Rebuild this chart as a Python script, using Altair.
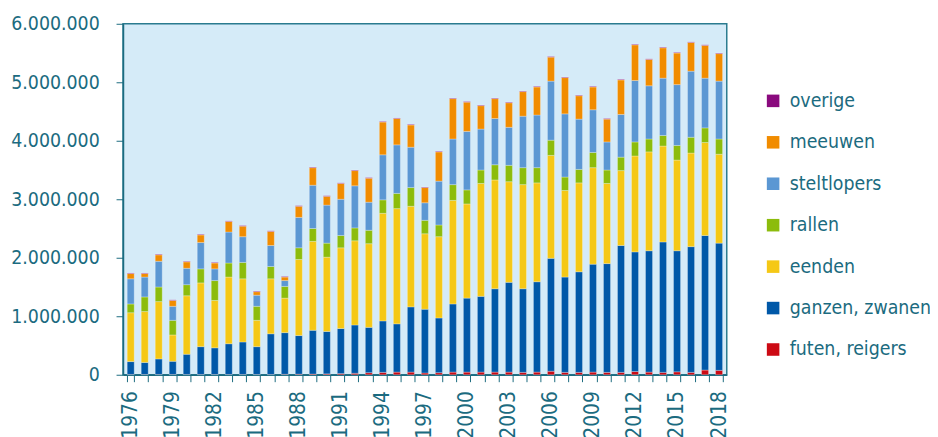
import altair as alt
import pandas as pd

years = list(range(1976, 2019))

# values in thousands of birds
futen = [5,5,5,5,5,5,5,5,5,5,5,8,10,12,15,20,25,35,40,45,45,30,35,45,45,45,45,45,40,45,60,40,40,45,40,40,55,45,40,50,40,80,75]
ganzen = [220,205,265,225,345,475,455,525,555,475,695,712,660,748,725,770,825,775,880,825,1115,1090,935,1165,1265,1295,1425,1535,1430,1545,1930,1630,1720,1845,1860,2170,2045,2075,2230,2070,2150,2300,2175]
eenden = [835,870,980,450,1000,1090,810,1140,1080,450,940,590,1300,1520,1270,1380,1440,1430,1840,1970,1720,1290,1390,1770,1610,1930,1860,1720,1780,1690,1760,1480,1520,1650,1370,1280,1640,1690,1640,1550,1600,1590,1520]
rallen = [150,250,250,250,190,240,340,240,280,240,210,200,200,220,240,210,220,230,230,260,320,230,200,270,240,230,260,280,290,260,260,230,230,260,230,230,240,220,180,250,270,250,260]
steltlopers = [430,340,440,240,280,450,200,530,440,190,360,100,520,740,650,620,720,480,770,830,690,300,750,780,1000,700,790,650,880,900,1010,1080,860,730,480,730,1050,910,980,1040,1130,850,990]
meeuwen = [90,60,110,100,110,130,100,180,180,60,240,60,190,300,150,270,260,410,560,450,380,260,500,690,500,400,340,420,420,480,410,620,400,390,390,590,610,450,520,540,490,560,470]
overige = [10]*43

series_names = ["futen, reigers", "ganzen, zwanen", "eenden", "rallen", "steltlopers", "meeuwen", "overige"]
series_vals = [futen, ganzen, eenden, rallen, steltlopers, meeuwen, overige]
series_colors = ["#cc0a14", "#0058a8", "#f5c816", "#8cbc0c", "#5b97d3", "#f18c00", "#8a0a7e"]

rows = []
for idx, (name, vals) in enumerate(zip(series_names, series_vals)):
    for y, v in zip(years, vals):
        rows.append({"jaar": str(y), "groep": name, "aantal": v * 1000, "volg": idx})
df = pd.DataFrame(rows)

teal = "#1b6b80"
font = "DejaVu Sans Condensed, DejaVu Sans"
legend_order = series_names[::-1]

chart = alt.Chart(df).mark_bar(stroke="white", strokeWidth=0.6, strokeOpacity=0.45).encode(
    x=alt.X("jaar:O", title=None,
            scale=alt.Scale(paddingInner=0.5, paddingOuter=0.3),
            axis=alt.Axis(labelAngle=270, labelFontSize=21, labelColor=teal,
                          labelExpr="(toNumber(datum.value) - 1976) % 3 == 0 ? datum.label : ''",
                          labelPadding=9, tickBand="extent", tickSize=7, tickColor=teal,
                          domainColor=teal, domainWidth=1.5, labelFont=font,
                          labelAlign="right", labelBaseline="middle")),
    y=alt.Y("aantal:Q", title=None, stack="zero",
            scale=alt.Scale(domain=[0, 6000000], nice=False),
            axis=alt.Axis(values=[0, 1000000, 2000000, 3000000, 4000000, 5000000, 6000000],
                          labelExpr="replace(format(datum.value, ','), regexp(',', 'g'), '.')",
                          labelFontSize=19.5, labelColor=teal, labelFont=font,
                          tickSize=7, tickColor=teal, domainColor=teal, domainWidth=1.5,
                          labelPadding=17, grid=False)),
    color=alt.Color("groep:N", scale=alt.Scale(domain=series_names, range=series_colors),
                    sort=legend_order,
                    legend=alt.Legend(title=None, orient="none", legendX=646, legendY=68,
                                      symbolType="square", symbolSize=160, symbolStrokeWidth=0,
                                      labelFontSize=19.5, labelColor=teal, labelFont=font,
                                      rowPadding=20.8, labelOffset=7, values=legend_order)),
    order=alt.Order("volg:Q", sort="ascending"),
).properties(
    width=609, height=354,
    autosize=alt.AutoSizeParams(type="none"),
    padding={"left": 116, "top": 14, "right": 205, "bottom": 75},
).configure_view(
    fill="#d5ebf8", stroke="#2a7b8f", strokeWidth=1.5
)

chart.save("out.html", embed_options={"renderer": "svg", "actions": False})
